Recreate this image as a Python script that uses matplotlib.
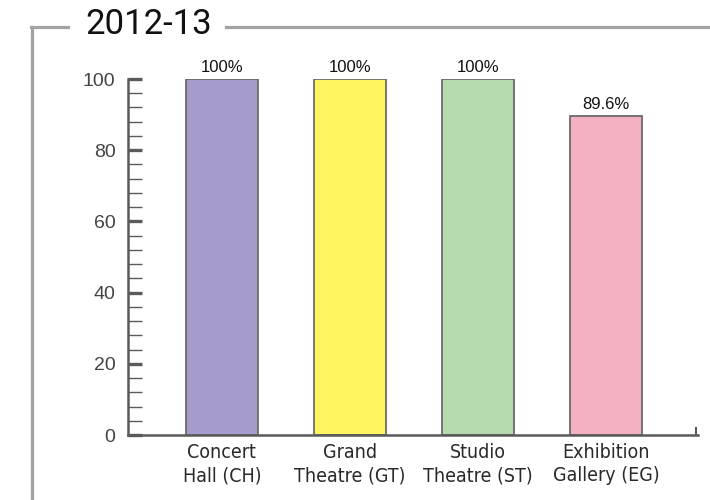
import matplotlib
matplotlib.use("Agg")
import matplotlib.pyplot as plt
from matplotlib.lines import Line2D
from matplotlib.ticker import MultipleLocator

title = "2012-13"
venues = ["Concert\nHall (CH)", "Grand\nTheatre (GT)", "Studio\nTheatre (ST)", "Exhibition\nGallery (EG)"]
usage = [100, 100, 100, 89.6]
value_labels = ["100%", "100%", "100%", "89.6%"]
colors = ["#a79bcb", "#fff462", "#b5dbae", "#f4b1c1"]

fig = plt.figure(figsize=(7.1, 5.0), dpi=100)
W, H = 710, 500

# grey frame around the chart, broken by the title
frame = "#a3a3a3"
fig.add_artist(Line2D([32 / W, 32 / W], [0, 1 - 27 / H], color=frame, lw=2.3, transform=fig.transFigure))
fig.add_artist(Line2D([31 / W, 68 / W], [1 - 27 / H, 1 - 27 / H], color=frame, lw=2.3, transform=fig.transFigure))
fig.add_artist(Line2D([226 / W, 1], [1 - 27 / H, 1 - 27 / H], color=frame, lw=2.3, transform=fig.transFigure))
fig.text(149 / W, 1 - 25 / H, title, fontsize=25, family=["Roboto", "DejaVu Sans"],
         ha="center", va="center", color="#111111")

ax = fig.add_axes([128 / W, 65 / H, 570 / W, 356 / H])
x = list(range(len(venues)))
bars = ax.bar(x, usage, width=0.5625, color=colors, edgecolor="#6b6b6b", linewidth=1.3, zorder=2)
for b, lab in zip(bars, value_labels):
    ax.text(b.get_x() + b.get_width() / 2, b.get_height() + 1.0, lab, ha="center", va="bottom",
            fontsize=12, family=["Liberation Sans", "DejaVu Sans"], color="#111111")

ax.set_xlim(-0.734, 3.72)
ax.set_ylim(0, 100)
for s in ["top", "right"]:
    ax.spines[s].set_visible(False)
for s in ["left", "bottom"]:
    ax.spines[s].set_color("#5a5a5a")
    ax.spines[s].set_linewidth(1.8)

ax.yaxis.set_major_locator(MultipleLocator(20))
ax.yaxis.set_minor_locator(MultipleLocator(4))
ax.tick_params(axis="y", which="major", direction="in", length=10, width=2.4, color="#5a5a5a",
               labelsize=14, labelcolor="#444444", pad=9)
ax.tick_params(axis="y", which="minor", direction="in", length=10, width=1, color="#5a5a5a")
for t in ax.get_yticklabels():
    t.set_family(["Liberation Sans", "DejaVu Sans"])

ax.set_xticks(x)
ax.set_xticklabels(venues, fontsize=14, family="DejaVu Sans", fontstretch="condensed",
                   weight="light", color="#2a2a2a", linespacing=1.25)
ax.tick_params(axis="x", length=0, pad=6)

# small end tick at the right of the x axis
ax.plot([3.705, 3.705], [0, 2], color="#5a5a5a", lw=1.5, clip_on=False)

fig.savefig("out.png", dpi=100)
